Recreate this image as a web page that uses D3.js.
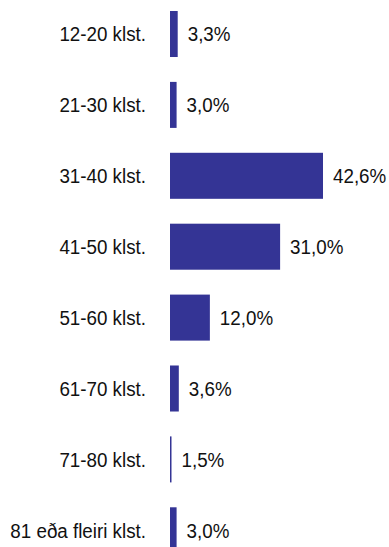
<!DOCTYPE html>
<html><head><meta charset="utf-8">
<script src="https://cdn.jsdelivr.net/npm/d3@7"></script>
<style>
html,body{margin:0;padding:0;background:#fff;}
svg{display:block;}
text{font-family:"Liberation Sans",Arial,sans-serif;font-size:21px;fill:#111;}
</style></head>
<body>
<script>
const categories = ["12-20 klst.","21-30 klst.","31-40 klst.","41-50 klst.","51-60 klst.","61-70 klst.","71-80 klst.","81 eða fleiri klst."];
const values = [3.3, 3.0, 42.6, 31.0, 12.0, 3.6, 1.5, 3.0];
const valueLabels = ["3,3%","3,0%","42,6%","31,0%","12,0%","3,6%","1,5%","3,0%"];

const W = 389, H = 547;
const baseline = 170;
const sx = 0.895;
const svg = d3.select("body").append("svg").attr("width", W).attr("height", H);

const x = d3.scaleLinear().domain([0, 42.6]).range([165.5, 323]);
const y = d3.scaleBand().domain(categories).range([-1.45, 565.75]).paddingInner(0.351).paddingOuter(0.1755);

const rows = svg.selectAll("g.row").data(categories).enter().append("g").attr("class","row");

rows.append("rect")
  .attr("x", baseline)
  .attr("y", d => y(d))
  .attr("width", (d,i) => Math.max(1.5, x(values[i]) - baseline))
  .attr("height", y.bandwidth())
  .attr("fill", "#343495");

rows.append("text")
  .attr("transform", d => `translate(146,${y(d) + y.bandwidth()/2}) scale(${sx},1)`)
  .attr("dy", "0.35em")
  .attr("text-anchor", "end")
  .text(d => d);

rows.append("text")
  .attr("transform", (d,i) => `translate(${Math.max(baseline + 1.5, x(values[i])) + 10},${y(d) + y.bandwidth()/2}) scale(${sx},1)`)
  .attr("dy", "0.35em")
  .text((d,i) => valueLabels[i]);
</script>
</body></html>
